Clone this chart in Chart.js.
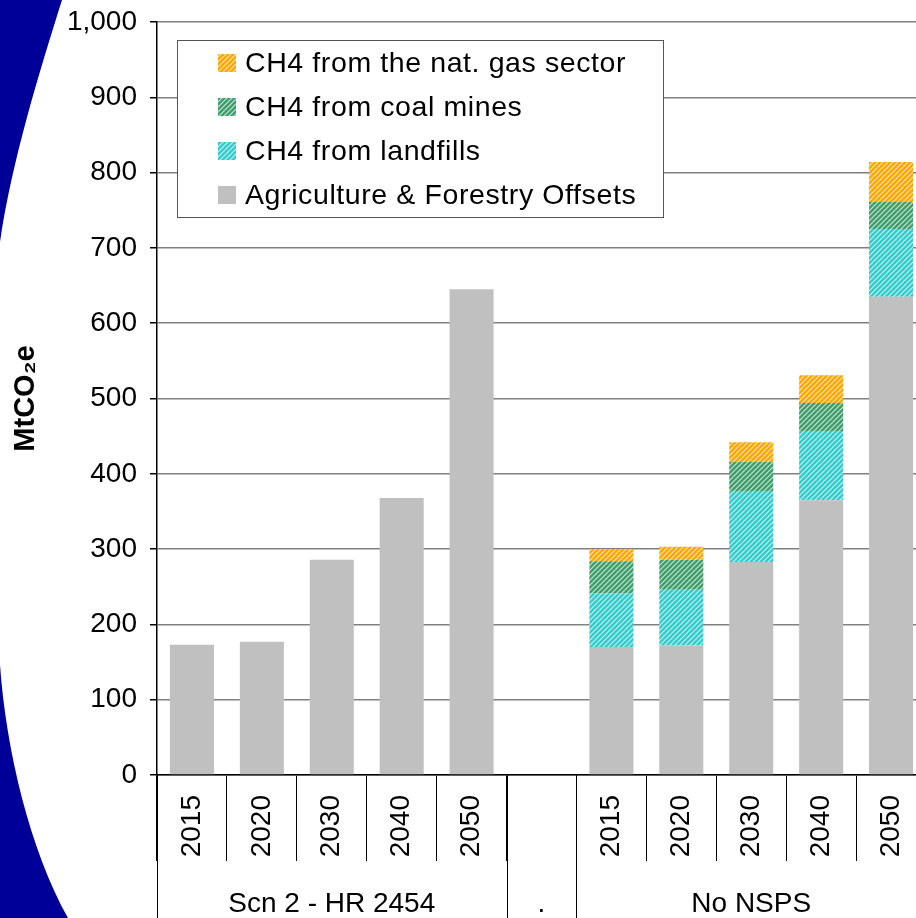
<!DOCTYPE html>
<html><head><meta charset="utf-8">
<script src="https://cdn.jsdelivr.net/npm/chart.js@4/dist/chart.umd.min.js"></script>
<style>
html,body{margin:0;padding:0;overflow:hidden;background:#fff;width:916px;height:918px}
#wrap{position:absolute;left:0;top:0;width:934px;height:918px}
canvas{display:block}
</style></head><body><div id="wrap"><canvas id="c" width="934" height="918"></canvas></div>
<script>
// ---- data ----
const categories = ['2015','2020','2030','2040','2050','','2015','2020','2030','2040','2050'];
const groupLabels = ['Scn 2 - HR 2454', '.', 'No NSPS'];
const groupSizes = [5, 1, 5];
const agriculture = [173, 177, 286, 368, 645, null, 170, 172, 283, 365, 635];
const landfills   = [null, null, null, null, null, null, 71, 74, 93, 91, 90];
const coalMines   = [null, null, null, null, null, null, 43, 40, 40, 38, 36];
const natGas      = [null, null, null, null, null, null, 16, 17, 26, 37, 53];
const seriesNames = ['Agriculture & Forestry Offsets', 'CH4 from landfills', 'CH4 from coal mines', 'CH4 from the nat. gas sector'];
const yMin = 0, yMax = 1000, yStep = 100;

const FONT = "'Liberation Sans', Arial, sans-serif";

function hatch(color){
  const s = 5;
  const c = document.createElement('canvas'); c.width = s; c.height = s;
  const g = c.getContext('2d');
  g.fillStyle = color; g.fillRect(0,0,s,s);
  g.strokeStyle = 'rgba(255,255,255,0.7)'; g.lineWidth = 1.2;
  g.beginPath();
  g.moveTo(-1, s+1); g.lineTo(s+1, -1);
  g.moveTo(-1, 1); g.lineTo(1, -1);
  g.moveTo(s-1, s+1); g.lineTo(s+1, s-1);
  g.stroke();
  return g.createPattern(c, 'repeat');
}

const bgPlugin = {
  id: 'bg',
  beforeDraw(chart){
    const ctx = chart.ctx;
    ctx.save();
    ctx.fillStyle = '#fff';
    ctx.fillRect(0,0,chart.width,chart.height);
    ctx.fillStyle = '#000099';
    // decorative slide background curve
    ctx.beginPath();
    ctx.moveTo(0,0); ctx.lineTo(62,0);
    ctx.bezierCurveTo(40,70, 12,160, 0,242);
    ctx.closePath(); ctx.fill();
    ctx.beginPath();
    ctx.moveTo(0,665);
    ctx.bezierCurveTo(6,750, 30,850, 68,918);
    ctx.lineTo(0,918); ctx.closePath(); ctx.fill();
    ctx.restore();
  }
};

const overlayPlugin = {
  id: 'overlay',
  afterDraw(chart){
    const ctx = chart.ctx;
    const xs = chart.scales.x;
    const area = chart.chartArea;
    ctx.save();
    // group separators and labels
    const half = (xs.getPixelForValue(1) - xs.getPixelForValue(0)) / 2;
    let idx = 0;
    ctx.strokeStyle = '#000'; ctx.lineWidth = 1;
    ctx.font = '28px ' + FONT; ctx.fillStyle = '#000';
    ctx.textAlign = 'center'; ctx.textBaseline = 'alphabetic';
    const bounds = [xs.getPixelForValue(0) - half];
    groupSizes.forEach((n, gi) => {
      const x0 = xs.getPixelForValue(idx) - half;
      const x1 = xs.getPixelForValue(idx + n - 1) + half;
      bounds.push(x1);
      ctx.fillText(groupLabels[gi], (x0 + x1) / 2, 912);
      idx += n;
    });
    bounds.forEach(b => {
      const x = Math.round(b) + 0.5;
      ctx.beginPath(); ctx.moveTo(x, area.bottom); ctx.lineTo(x, chart.height); ctx.stroke();
    });
    // legend box
    const lx = area.left + 20, ly = area.top + 18, lw = 486, lh = 177;
    ctx.fillStyle = '#fff'; ctx.fillRect(lx, ly, lw, lh);
    ctx.strokeStyle = '#555'; ctx.lineWidth = 1;
    ctx.strokeRect(Math.round(lx)+0.5, Math.round(ly)+0.5, lw, lh);
    const ds = chart.data.datasets.slice().reverse();
    ctx.textAlign = 'left'; ctx.textBaseline = 'middle';
    ctx.font = '28.5px ' + FONT;
    try { ctx.letterSpacing = '0.6px'; } catch(e) {}
    ds.forEach((d, i) => {
      const cy = ly + 23 + i * 44;
      ctx.fillStyle = d.backgroundColor;
      ctx.fillRect(lx + 41, cy - 9, 18, 18);
      ctx.fillStyle = '#000';
      ctx.fillText(d.label, lx + 68, cy + 1);
    });
    ctx.restore();
  }
};

new Chart(document.getElementById('c'), {
  type: 'bar',
  data: {
    labels: categories,
    datasets: [
      { label: seriesNames[0], data: agriculture, backgroundColor: '#C0C0C0' },
      { label: seriesNames[1], data: landfills, backgroundColor: hatch('#33CCCC') },
      { label: seriesNames[2], data: coalMines, backgroundColor: hatch('#3E9E6B') },
      { label: seriesNames[3], data: natGas, backgroundColor: hatch('#FFA500') }
    ]
  },
  options: {
    responsive: false, animation: false, devicePixelRatio: 1,
    layout: { padding: { left: 0, right: 8, top: 22, bottom: 0 } },
    datasets: { bar: { categoryPercentage: 1, barPercentage: 0.63, borderWidth: 0 } },
    plugins: { legend: { display: false }, tooltip: { enabled: false } },
    scales: {
      x: {
        stacked: true,
        grid: { display: true, drawOnChartArea: false, drawTicks: true, tickLength: 86, color: '#000', lineWidth: 1, offset: true },
        border: { display: true, color: '#000', width: 1.5 },
        ticks: { autoSkip: false, maxRotation: 90, minRotation: 90, padding: -66, color: '#000', font: { family: FONT, size: 28 } },
        afterFit(s){ s.height = 143; s.paddingLeft = 0; s.paddingRight = 0; }
      },
      y: {
        stacked: true, min: yMin, max: yMax,
        ticks: { stepSize: yStep, color: '#000', padding: 13, font: { family: FONT, size: 28 },
                 callback: v => v.toLocaleString('en-US') },
        grid: { color: '#808080', lineWidth: 1.5, tickLength: 7, tickColor: '#000' },
        border: { color: '#000', width: 1.5 },
        title: { display: true, text: 'MtCO₂e', color: '#000', font: { family: FONT, size: 29, weight: 'bold' }, padding: { top: 9, bottom: 0 } },
        afterFit(s){ s.width = 157; s.paddingTop = 0; s.paddingBottom = 0; }
      }
    }
  },
  plugins: [bgPlugin, overlayPlugin]
});
</script></body></html>
